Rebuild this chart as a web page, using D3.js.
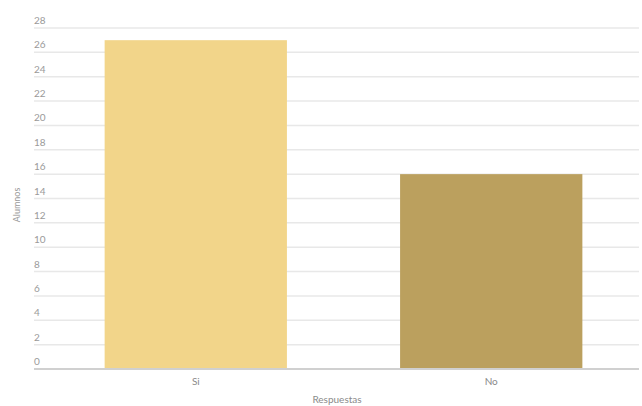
<!DOCTYPE html>
<html><head><meta charset="utf-8">
<script src="https://cdn.jsdelivr.net/npm/d3@7"></script>
<style>body{margin:0;background:#fff}svg{display:block}text{font-family:Lato,"Open Sans",sans-serif}</style>
</head><body><svg id="c" width="642" height="406"></svg>
<script>
const categories = ["Si", "No"];
const values = [27, 16];
const colors = ["#F2D58A", "#BBA05E"];
const yTicks = [0,2,4,6,8,10,12,14,16,18,20,22,24,26,28];
const xTitle = "Respuestas";
const yTitle = "Alumnos";

const svg = d3.select("#c");
const gridLeft = 34, gridRight = 639;
const y = d3.scaleLinear().domain([0, 28]).range([369, 28]);
const x = d3.scaleBand().domain(categories).range([48.5, 638.5]).paddingInner(0.383).paddingOuter(0.19);

const g = svg.append("g");
g.selectAll("line.grid").data(yTicks.filter(d => d > 0)).join("line")
  .attr("x1", gridLeft).attr("x2", gridRight)
  .attr("y1", d => y(d)).attr("y2", d => y(d))
  .attr("stroke", "#e8e8e8").attr("stroke-width", 1.5);
g.selectAll("text.tick").data(yTicks).join("text")
  .attr("x", gridLeft).attr("y", d => y(d) - 4)
  .attr("font-size", 10).attr("fill", "#9a9a9a").text(d => d);

g.selectAll("rect").data(values).join("rect")
  .attr("x", (d, i) => x(categories[i])).attr("width", x.bandwidth())
  .attr("y", d => y(d)).attr("height", d => y(0) - y(d))
  .attr("fill", (d, i) => colors[i]);

g.append("line").attr("x1", gridLeft).attr("x2", gridRight)
  .attr("y1", y(0)).attr("y2", y(0)).attr("stroke", "#d0d0d0").attr("stroke-width", 2);

g.selectAll("text.xl").data(categories).join("text")
  .attr("x", d => x(d) + x.bandwidth() / 2).attr("y", 385)
  .attr("text-anchor", "middle").attr("font-size", 10).attr("fill", "#8a8a8a").text(d => d);

svg.append("text").attr("x", 337).attr("y", 403).attr("text-anchor", "middle")
  .attr("font-size", 10).attr("fill", "#8a8a8a").text(xTitle);
svg.append("text").attr("transform", "translate(20,205) rotate(-90)").attr("text-anchor", "middle")
  .attr("font-size", 9).attr("fill", "#9a9a9a").text(yTitle);
</script></body></html>
